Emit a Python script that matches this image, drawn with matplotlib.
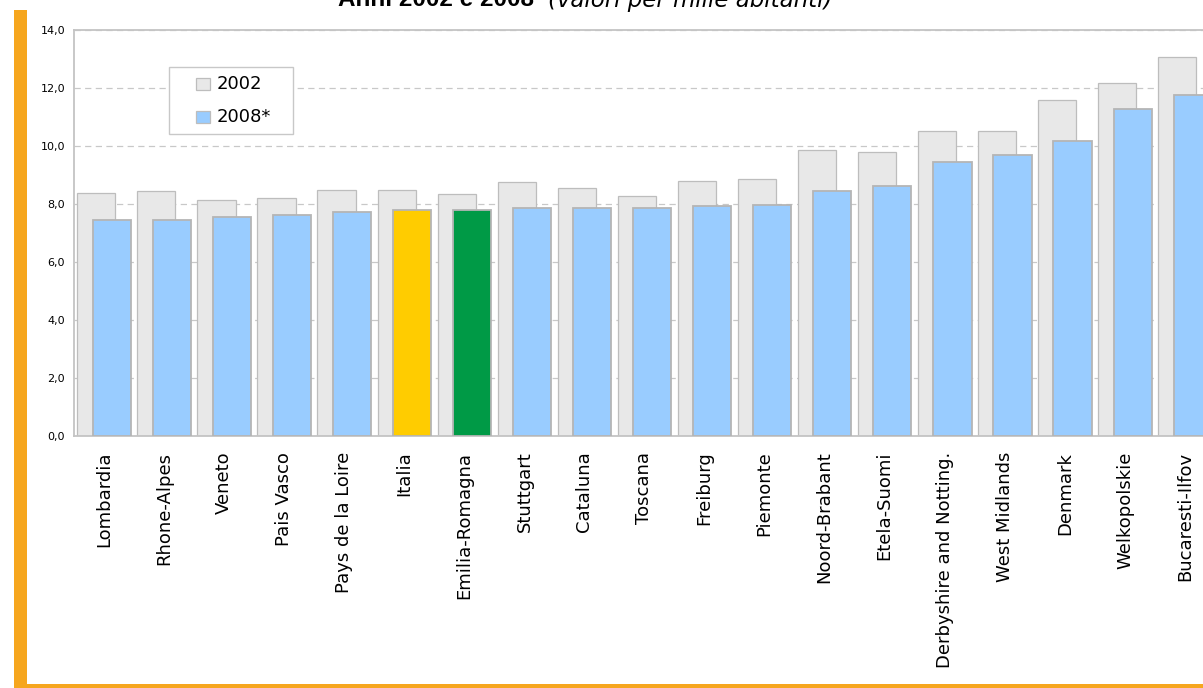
import matplotlib.pyplot as plt
from matplotlib.patches import Rectangle
from matplotlib.ticker import FuncFormatter

# ====================================================
# Data (valori per mille abitanti)
# ====================================================

regions = ["Lombardia", "Rhone-Alpes", "Veneto", "Pais Vasco", "Pays de la Loire",
           "Italia", "Emilia-Romagna", "Stuttgart", "Cataluna", "Toscana",
           "Freiburg", "Piemonte", "Noord-Brabant", "Etela-Suomi",
           "Derbyshire and Notting.", "West Midlands", "Denmark",
           "Welkopolskie", "Bucaresti-Ilfov"]
v2002 = [8.39, 8.45, 8.15, 8.21, 8.50, 8.50, 8.34, 8.75, 8.57, 8.27,
         8.81, 8.86, 9.87, 9.81, 10.51, 10.51, 11.58, 12.17, 13.07]
v2008 = [7.45, 7.45, 7.56, 7.62, 7.74, 7.80, 7.80, 7.87, 7.87, 7.87,
         7.92, 7.98, 8.45, 8.64, 9.45, 9.70, 10.17, 11.30, 11.77]
series_labels = ["2002", "2008*"]
yticks = [0, 2, 4, 6, 8, 10, 12, 14]

# colours
c2002 = "#E8E8E8"
c2008 = "#99CCFF"
highlight = {"Italia": "#FFCC00", "Emilia-Romagna": "#009A46"}
edge = "#BDBDBD"
orange = "#F6A61E"

W, H = 1203, 688
fig = plt.figure(figsize=(W / 100, H / 100), dpi=100)
fig.patch.set_facecolor("white")

def fx(px):
    return px / W

def fy(py):
    return 1 - py / H

# axes: y=0 at 435.7px, y=14 at 30.4px, left 74px, runs past the right edge
ax = fig.add_axes([fx(74), fy(435.7), fx(1215 - 74), (435.7 - 30.4) / H])

x = list(range(len(regions)))
w = 0.635
off = 0.128
ax.bar([i - off for i in x], v2002, width=w, color=c2002, edgecolor=edge,
       linewidth=0.9, zorder=2)
cols = [highlight.get(r, c2008) for r in regions]
ax.bar([i + off for i in x], v2008, width=w, color=cols, edgecolor="#B5B5B5",
       linewidth=1.3, zorder=3)

ax.set_xlim(-0.5, len(regions) - 0.5)
ax.set_ylim(0, 14)
ax.set_yticks(yticks)
ax.yaxis.set_major_formatter(FuncFormatter(lambda v, p: f"{v:.1f}".replace(".", ",")))
ax.set_xticks(x)
ax.set_xticklabels(regions, rotation=90, fontsize=13, va="top", ha="center",
                   family="DejaVu Sans")
ax.tick_params(axis="x", length=0, pad=11.5)
ax.tick_params(axis="y", length=0, pad=6.5, labelsize=8)

ax.yaxis.grid(True, linestyle=(0, (5, 3.5)), color="#C8C8C8", linewidth=0.9, zorder=0)
ax.set_axisbelow(True)
for s in ["left", "top", "bottom"]:
    ax.spines[s].set_color("#C4C4C4")
    ax.spines[s].set_linewidth(1.3)
ax.spines["right"].set_visible(False)

# legend box drawn by hand
fig.patches.append(Rectangle((fx(169), fy(134)), fx(293 - 169), (134 - 67) / H,
                             transform=fig.transFigure, facecolor="white",
                             edgecolor="#C8C8C8", linewidth=1.0, zorder=5))
for k, (lab, col) in enumerate(zip(series_labels, [c2002, c2008])):
    cy = 84 + 33 * k
    fig.patches.append(Rectangle((fx(196), fy(cy + 6)), fx(14), 12 / H,
                                 transform=fig.transFigure, facecolor=col,
                                 edgecolor=edge, linewidth=0.9, zorder=6))
    fig.text(fx(217), fy(cy), lab, fontsize=13, va="center", ha="left",
             family="DejaVu Sans", zorder=7)

# title (cut off at the top of the picture)
fig.text(fx(338), fy(6.5), "Anni 2002 e 2008", fontsize=17.5, fontweight="bold",
         family="Liberation Sans", va="baseline", ha="left")
fig.text(fx(548), fy(6.5), "(valori per mille abitanti)", fontsize=16.5,
         style="italic", family="DejaVu Sans", va="baseline", ha="left")

# orange frame
fig.patches.append(Rectangle((fx(14), 0), fx(13), fy(10), transform=fig.transFigure,
                             facecolor=orange, edgecolor="none", zorder=1))
fig.patches.append(Rectangle((fx(14), 0), 1, 4 / H, transform=fig.transFigure,
                             facecolor=orange, edgecolor="none", zorder=1))

fig.savefig("out.png", dpi=100)
